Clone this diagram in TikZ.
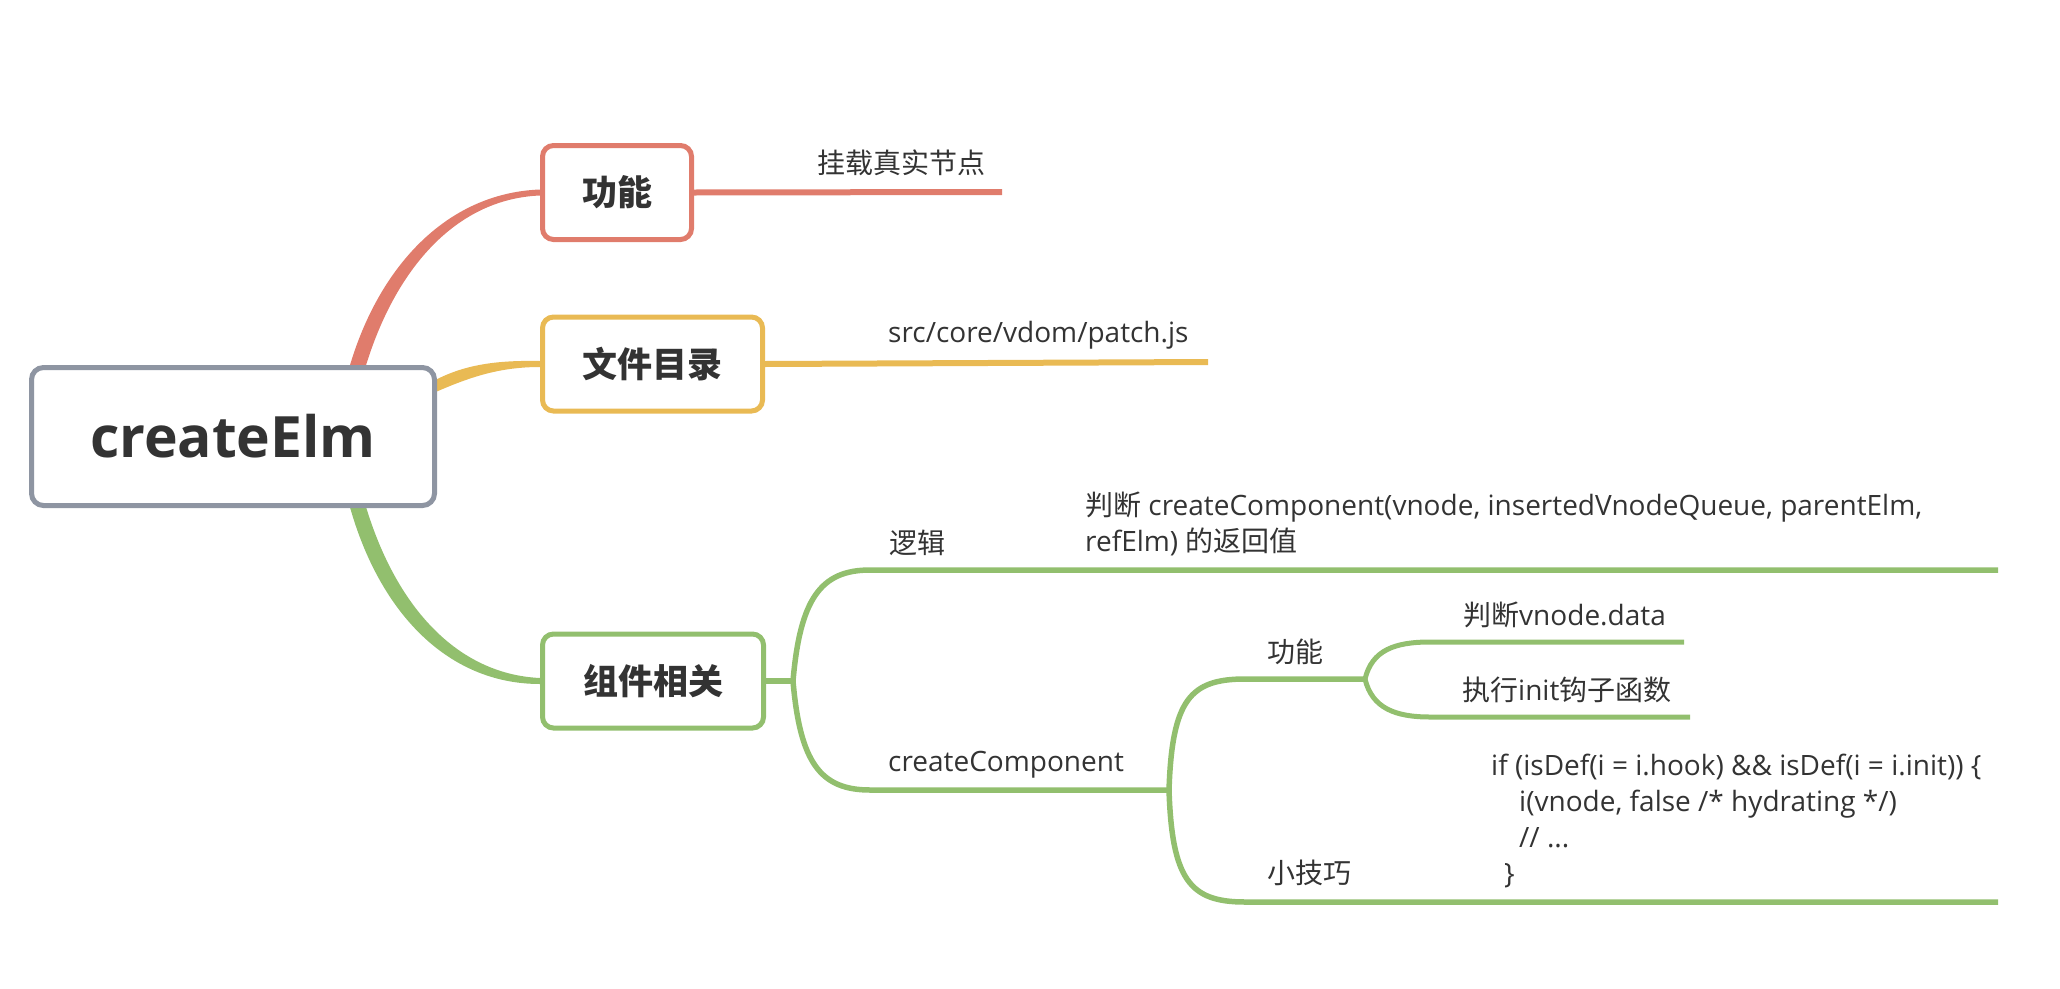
\documentclass[tikz,border=0pt]{standalone}
\usepackage{fontspec}
\setmainfont{Open Sans}
\newfontfamily\cjk{Noto Sans CJK SC}
\usetikzlibrary{backgrounds}
\definecolor{cred}{RGB}{224,124,108}
\definecolor{cyel}{RGB}{233,186,84}
\definecolor{cgrn}{RGB}{146,191,110}
\definecolor{cgray}{RGB}{142,149,162}
\definecolor{txt}{RGB}{51,51,51}
\begin{document}
\begin{tikzpicture}[x=1pt,y=-1pt,
  rootbox/.style={draw=cgray, line width=5pt, rounded corners=12pt, fill=white, minimum width=403pt, minimum height=138pt, inner sep=0pt, text=txt, font=\fontsize{57}{66}\selectfont\bfseries},
  topic/.style={draw=#1, line width=5pt, rounded corners=11pt, fill=white, minimum height=94pt, inner sep=0pt, text=txt, font=\fontsize{35}{40}\selectfont\bfseries\cjk},
  lbl/.style={anchor=west, inner sep=0pt, text=txt, font=\fontsize{28}{36}\selectfont},
  lblb/.style={lbl, anchor=base west},
  brline/.style={draw=#1, line width=6pt},
  subline/.style={draw=cgrn, line width=5.5pt},
  leafline/.style={draw=cgrn, line width=5pt},
]
\useasboundingbox (0,0) rectangle (2060,988);

% main nodes
\node[rootbox] (root) at (233,436.5) {createElm};
\node[topic=cred, minimum width=149pt] (gn) at (617,192.5) {功能};
\node[topic=cyel, minimum width=220pt] (wj) at (652.5,364) {文件目录};
\node[topic=cgrn, minimum width=221pt] (zj) at (653,681) {组件相关};

% labels
\node[lbl] (gnL) at (817,163) {\cjk 挂载真实节点};
\node[lbl] (wjL) at (888,335) {src/core/vdom/patch.js};
\node[lbl] (lj) at (889,543) {\cjk 逻辑};
\node[lblb] (ljT1) at (1085,515) {{\cjk 判断} createComponent(vnode, insertedVnodeQueue, parentElm,};
\node[lblb] (ljT2) at (1085,551) {refElm) {\cjk 的返回值}};
\node[lblb] (cc) at (888,771) {createComponent};
\node[lbl] (gn2) at (1267,652) {\cjk 功能};
\node[lbl] (pd) at (1463,615) {{\cjk 判断}vnode.data};
\node[lbl] (zx) at (1462,690) {{\cjk 执行}init{\cjk 钩子函数}};
\node[lbl] (xj) at (1267,873) {\cjk 小技巧};
\node[lblb] (code1) at (1491,775) {if (isDef(i = i.hook) \&\& isDef(i = i.init)) \{};
\node[lblb] (code2) at (1519,811) {i(vnode, false /* hydrating */)};
\node[lblb] (code3) at (1519,847) {// ...};
\node[lblb] (code4) at (1504,883) {\}};

% coordinates
\coordinate (rA) at (356,372);
\coordinate (yA) at (420,394);
\coordinate (gA) at (356,500);
\coordinate (gnE) at (1002,192);
\coordinate (wjE) at (1208,362);
\coordinate (zjJ) at (793,681);
\coordinate (ljS) at (870,570); \coordinate (ljE) at (1998,570);
\coordinate (ccS) at (870,790); \coordinate (ccE) at (1169,790);
\coordinate (gn2S) at (1245,679); \coordinate (gn2E) at (1365,679);
\coordinate (xjS) at (1245,902); \coordinate (xjE) at (1998,902);
\coordinate (pdS) at (1430,642); \coordinate (pdE) at (1684,642);
\coordinate (zxS) at (1430,717); \coordinate (zxE) at (1690,717);

\begin{scope}[on background layer]
% tapered main connectors
\fill[cred] ([xshift=-8pt]rA) .. controls (377,268) and (446,193) .. ([yshift=3pt]gn.west)
  -- ([yshift=-3pt]gn.west) .. controls (454,199) and (393,272) .. ([xshift=8pt]rA) -- cycle;
\fill[cyel] ([yshift=5pt]yA) .. controls (455,366) and (490,360) .. ([yshift=3pt]wj.west)
  -- ([yshift=-3pt]wj.west) .. controls (494,367) and (462,380) .. ([yshift=-5pt]yA) -- cycle;
\fill[cgrn] ([xshift=-8pt]gA) .. controls (377,610) and (446,684) .. ([yshift=-3pt]zj.west)
  -- ([yshift=3pt]zj.west) .. controls (454,674) and (393,602) .. ([xshift=8pt]gA) -- cycle;

% topic branches
\draw[brline=cred] (gn.east) -- (gnE);
\draw[brline=cyel] (wj.east) -- (wjE);

% green subtree
\draw[subline] (zj.east) -- (zjJ);
\draw[subline] (zjJ) .. controls +(7,-81) and +(-50,0) .. (ljS) -- (ljE);
\draw[subline] (zjJ) .. controls +(7,81) and +(-50,0) .. (ccS) -- (ccE);
\draw[subline] (ccE) .. controls +(3,-90) and +(-55,0) .. (gn2S) -- (gn2E);
\draw[subline] (ccE) .. controls +(3,90) and +(-55,0) .. (xjS) -- (xjE);
\draw[leafline] (gn2E) .. controls +(7,-29) and +(-35,0) .. (pdS) -- (pdE);
\draw[leafline] (gn2E) .. controls +(7,29) and +(-35,0) .. (zxS) -- (zxE);
\end{scope}
\end{tikzpicture}
\end{document}
